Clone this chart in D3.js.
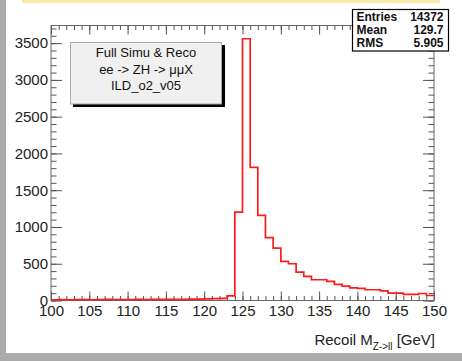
<!DOCTYPE html>
<html>
<head>
<meta charset="utf-8">
<script src="https://cdn.jsdelivr.net/npm/d3@7"></script>
<style>
  body { margin: 0; background: #ababab; }
  svg { display: block; font-family: "Liberation Sans", Arial, sans-serif; }
</style>
</head>
<body>
<div id="chart"></div>
<script>
// histogram: 1 GeV bins from 100 to 150
const binStart = 100;
const binWidth = 1;
const counts = [
  10, 12, 9, 11, 13, 10, 12, 14, 11, 13, 12, 15, 13, 14, 16, 15, 17, 16, 18, 20, 22, 25, 28,
  62, 1203, 3560, 1810, 1158, 854, 712, 531, 500, 385, 327, 282, 282, 259, 218, 195, 173,
  165, 146, 146, 132, 100, 100, 82, 82, 95, 68
];
const xTicks = [100, 105, 110, 115, 120, 125, 130, 135, 140, 145, 150];
const yTicks = [0, 500, 1000, 1500, 2000, 2500, 3000, 3500];
const legendLines = ["Full Simu & Reco", "ee -> ZH -> \u03bc\u03bcX", "ILD_o2_v05"];
const statNames = ["Entries", "Mean", "RMS"];
const statValues = ["14372", "129.7", "5.905"];

const W = 462, H = 361;
const frame = { left: 51, right: 434, top: 25.5, bottom: 300.5 };

const svg = d3.select("#chart").append("svg").attr("width", W).attr("height", H);

// page background
svg.append("rect").attr("width", W).attr("height", H).attr("fill", "#ababab");
svg.append("rect").attr("x", 6).attr("y", 0).attr("width", W - 6).attr("height", 353).attr("fill", "#fff");
svg.append("rect").attr("x", 22).attr("y", 0).attr("width", 418).attr("height", 3).attr("fill", "#fbe9a8");

const x = d3.scaleLinear().domain([100, 150]).range([frame.left, frame.right]);
const y = d3.scaleLinear().domain([0, 3740]).range([frame.bottom, frame.top]);

const minorX = d3.range(100, 151, 1);
const minorY = d3.range(0, 3701, 100);

function styleAxis(g) {
  g.selectAll(".domain").remove();
  g.selectAll(".tick line").attr("stroke", "#555");
  g.selectAll("text").attr("fill", "#222").attr("font-size", 15);
}

// bottom
svg.append("g").attr("transform", `translate(0,${frame.bottom})`)
  .call(d3.axisBottom(x).tickValues(minorX).tickSize(-4.5).tickFormat(""))
  .call(styleAxis);
svg.append("g").attr("transform", `translate(0,${frame.bottom})`)
  .call(d3.axisBottom(x).tickValues(xTicks).tickSize(-9).tickPadding(5).tickFormat(d3.format("d")))
  .call(styleAxis);
// top
svg.append("g").attr("transform", `translate(0,${frame.top})`)
  .call(d3.axisTop(x).tickValues(minorX).tickSize(-4.5).tickFormat(""))
  .call(styleAxis);
svg.append("g").attr("transform", `translate(0,${frame.top})`)
  .call(d3.axisTop(x).tickValues(xTicks).tickSize(-9).tickFormat(""))
  .call(styleAxis);
// left
svg.append("g").attr("transform", `translate(${frame.left},0)`)
  .call(d3.axisLeft(y).tickValues(minorY).tickSize(-5.5).tickFormat(""))
  .call(styleAxis);
svg.append("g").attr("transform", `translate(${frame.left},0)`)
  .call(d3.axisLeft(y).tickValues(yTicks).tickSize(-11).tickPadding(3).tickFormat(d3.format("d")))
  .call(styleAxis);
// right
svg.append("g").attr("transform", `translate(${frame.right},0)`)
  .call(d3.axisRight(y).tickValues(minorY).tickSize(-5.5).tickFormat(""))
  .call(styleAxis);
svg.append("g").attr("transform", `translate(${frame.right},0)`)
  .call(d3.axisRight(y).tickValues(yTicks).tickSize(-11).tickFormat(""))
  .call(styleAxis);

svg.append("rect")
  .attr("x", frame.left).attr("y", frame.top)
  .attr("width", frame.right - frame.left).attr("height", frame.bottom - frame.top)
  .attr("fill", "none").attr("stroke", "#666").attr("stroke-width", 1);

// histogram outline
const pts = counts.map((c, i) => [binStart + i * binWidth, c]);
pts.push([binStart + counts.length * binWidth, counts[counts.length - 1]]);
svg.append("path")
  .datum(pts)
  .attr("fill", "none")
  .attr("stroke", "#ff1a1a")
  .attr("stroke-width", 1.7)
  .attr("d", d3.line().x((d) => x(d[0])).y((d) => y(d[1])).curve(d3.curveStepAfter));

// x title
const title = svg.append("text")
  .attr("x", 435).attr("y", 345)
  .attr("text-anchor", "end")
  .attr("font-size", 15)
  .attr("fill", "#222");
title.append("tspan").text("Recoil M");
title.append("tspan").attr("font-size", 10).attr("dy", 5).text("Z->ll");
title.append("tspan").attr("dy", -5).text(" [GeV]");

// legend pave
const leg = svg.append("g");
leg.append("rect").attr("x", 73).attr("y", 45).attr("width", 152).attr("height", 62).attr("fill", "#000");
leg.append("rect").attr("x", 70.5).attr("y", 42.5).attr("width", 151).attr("height", 61.5)
  .attr("fill", "#f0f0f0").attr("stroke", "#aaa").attr("stroke-width", 1);
leg.selectAll("text.l").data(legendLines).join("text")
  .attr("class", "l")
  .attr("x", 146).attr("y", (d, i) => 57 + i * 16.7)
  .attr("text-anchor", "middle")
  .attr("font-size", 13)
  .attr("fill", "#111")
  .text((d) => d);

// stats box
const st = svg.append("g");
st.append("rect").attr("x", 352.5).attr("y", 9.5).attr("width", 96).attr("height", 41.5)
  .attr("fill", "#fff").attr("stroke", "#000").attr("stroke-width", 1.2);
st.selectAll("text.n").data(statNames).join("text")
  .attr("class", "n")
  .attr("x", 356.5).attr("y", (d, i) => 20.8 + i * 13)
  .attr("font-size", 12).attr("font-weight", "bold").attr("fill", "#111")
  .text((d) => d);
st.selectAll("text.v").data(statValues).join("text")
  .attr("class", "v")
  .attr("x", 443.5).attr("y", (d, i) => 20.8 + i * 13)
  .attr("text-anchor", "end")
  .attr("font-size", 12).attr("font-weight", "bold").attr("fill", "#111")
  .text((d) => d);
</script>
</body>
</html>
